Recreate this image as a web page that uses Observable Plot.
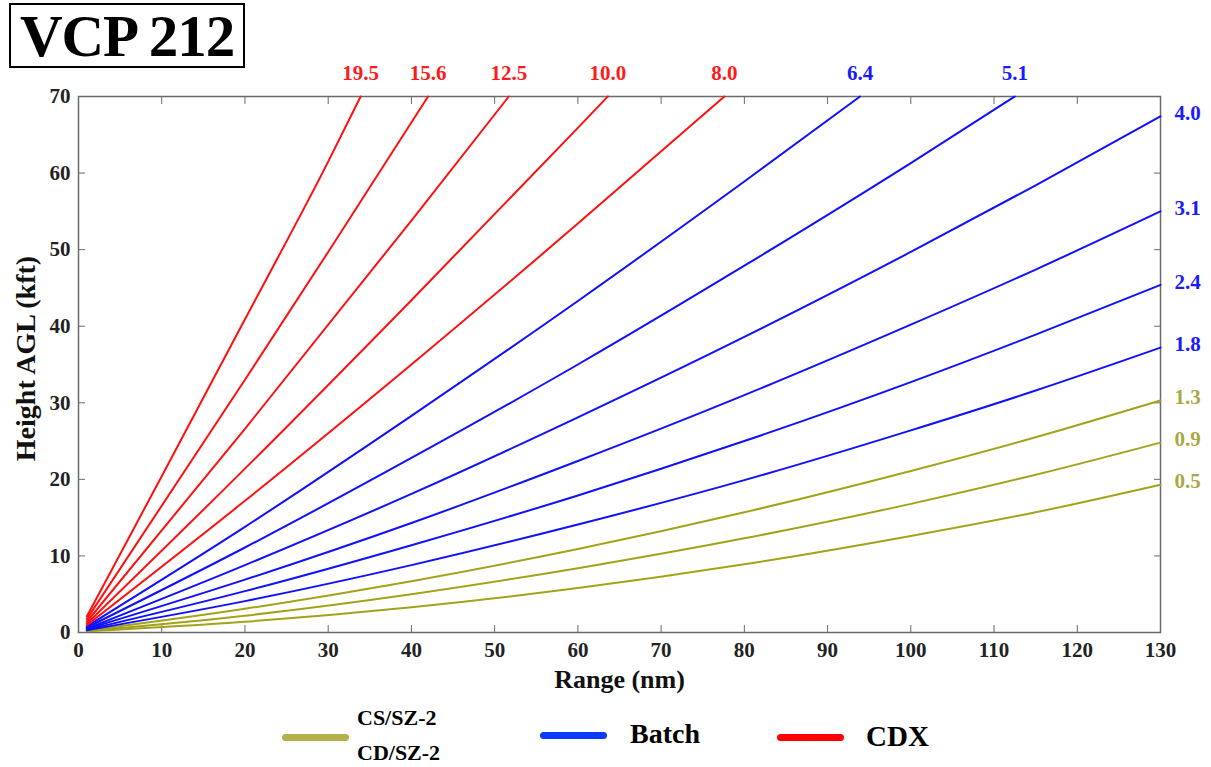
<!DOCTYPE html>
<html>
<head>
<meta charset="utf-8">
<script src="https://cdn.jsdelivr.net/npm/d3@7"></script>
<script src="https://cdn.jsdelivr.net/npm/@observablehq/plot@0.6"></script>
<style>
  html, body { margin: 0; padding: 0; background: #fff; }
  #wrap { position: relative; width: 1211px; height: 767px; overflow: hidden; font-family: "Liberation Serif", "Times New Roman", serif; font-weight: bold; }
  #chart { position: absolute; left: 0; top: 0; }
  #title { position: absolute; left: 9px; top: 3px; width: 232px; height: 61px; border: 2px solid #000; font-size: 59px; line-height: 62px; text-align: center; color: #000; letter-spacing: -1px; }
  .sw { position: absolute; height: 7px; border-radius: 4px; }
  .lt { position: absolute; color: #000; white-space: nowrap; line-height: 1; }
</style>
</head>
<body>
<div id="wrap">
  <div id="chart"></div>
  <div id="title">VCP 212</div>
  <div id="legend"></div>
</div>
<script>
// ---- data ----
const elevations = ["0.5","0.9","1.3","1.8","2.4","3.1","4.0","5.1","6.4","8.0","10.0","12.5","15.6","19.5"];
const scanGroup  = ["CS","CS","CS","Batch","Batch","Batch","Batch","Batch","Batch","CDX","CDX","CDX","CDX","CDX"];
const rangesNm = [
  [1,20,40,60,80,100,115,130],
  [1,20,40,60,80,100,115,130],
  [1,20,40,60,80,100,115,130],
  [1,20,40,60,80,100,115,130],
  [1,20,40,60,80,100,115,130],
  [1,20,40,60,80,100,115,130],
  [1,20,40,60,80,100,115,130],
  [1,20,40,60,80,100,112.5],
  [1,20,40,60,80,93.9],
  [1,20,40,60,77.6],
  [1,20,40,60,63.6],
  [1,20,40,51.7],
  [1,20,30,42],
  [1,10,20,30,33.9]
];
const heightsKft = [
  [0.15,1.4,3.3,5.8,8.9,12.6,15.7,19.3],
  [0.2,2.2,5.0,8.4,12.3,16.8,20.6,24.8],
  [0.25,3.1,6.7,10.9,15.7,21.1,25.5,30.3],
  [0.3,4.1,8.8,14.1,19.9,26.4,31.6,37.2],
  [0.35,5.4,11.4,17.9,25.0,32.7,38.9,45.4],
  [0.45,6.9,14.3,22.4,31.0,40.2,47.4,55.0],
  [0.5,8.8,18.1,28.1,38.6,49.7,58.4,67.4],
  [0.65,11.1,22.8,35.0,47.9,61.3,70],
  [0.8,13.8,28.3,43.3,58.9,70],
  [0.95,17.2,35.0,53.4,70],
  [1.15,21.4,43.4,65.9,70],
  [1.4,26.6,53.8,70],
  [1.75,33.0,49.7,70],
  [2.1,20.4,40.9,61.5,70]
];
const groups = ["CS","Batch","CDX"];
const legendLabels = [["CS/SZ-2","CD/SZ-2"],["Batch"],["CDX"]];
const lineColors = ["#a3a31a","#1010ff","#ff1010"];
const labelColors = ["#a9a943","#1a1aff","#ff1a1a"];
const legendColors = ["#b2b248","#0a3cff","#ff0000"];
const xTicks = [0,10,20,30,40,50,60,70,80,90,100,110,120,130];
const yTicks = [0,10,20,30,40,50,60,70];

// ---- build table ----
const rows = [];
elevations.forEach((e, i) => {
  rangesNm[i].forEach((r, j) => rows.push({angle: e, group: scanGroup[i], range: r, height: heightsKft[i][j]}));
});
const ends = elevations.map((e, i) => ({
  angle: e, group: scanGroup[i],
  range: rangesNm[i][rangesNm[i].length - 1],
  height: heightsKft[i][heightsKft[i].length - 1]
}));
const topEnds = ends.filter(d => d.height >= 70);
const rightEnds = ends.filter(d => d.height < 70);

const font = "'Liberation Serif', 'Times New Roman', serif";

const marks = [
  Plot.frame({stroke: "#6a6a6a", strokeWidth: 1.5}),
  Plot.axisX(xTicks, {anchor: "bottom", tickSize: -7, tickPadding: 17, stroke: "#6a6a6a", fill: "#222", fontSize: 21, fontWeight: "bold", label: null}),
  Plot.axisX(xTicks, {anchor: "top", tickSize: -7, tickFormat: () => "", stroke: "#6a6a6a", label: null}),
  Plot.axisY(yTicks, {anchor: "left", tickSize: -7, tickPadding: 15, stroke: "#6a6a6a", fill: "#222", fontSize: 21, fontWeight: "bold", label: null}),
  Plot.axisY(yTicks, {anchor: "right", tickSize: -7, tickFormat: () => "", stroke: "#6a6a6a", label: null}),
  Plot.text(["Height AGL (kft)"], {frameAnchor: "left", textAnchor: "middle", dx: -52, dy: -6, rotate: -90, fontSize: 28, fontWeight: "bold", fill: "#111"}),
  Plot.text(["Range (nm)"], {frameAnchor: "bottom", textAnchor: "middle", dy: 55, fontSize: 26, fontWeight: "bold", fill: "#111"})
];
groups.forEach((g, i) => {
  marks.push(Plot.line(rows.filter(d => d.group === g), {x: "range", y: "height", z: "angle", stroke: lineColors[i], strokeWidth: 2, curve: "monotone-x"}));
  marks.push(Plot.text(topEnds.filter(d => d.group === g), {x: "range", y: "height", text: "angle", fill: labelColors[i], dy: -23, fontSize: 21, fontWeight: "bold"}));
  marks.push(Plot.text(rightEnds.filter(d => d.group === g), {x: "range", y: "height", text: "angle", fill: labelColors[i], dx: 14, dy: -3, textAnchor: "start", fontSize: 21, fontWeight: "bold"}));
});

const chart = Plot.plot({
  width: 1211,
  height: 700,
  marginLeft: 78,
  marginRight: 51,
  marginTop: 96,
  marginBottom: 68,
  style: {fontFamily: font, background: "white", overflow: "visible"},
  x: {domain: [0, 130]},
  y: {domain: [0, 70]},
  marks
});
document.getElementById("chart").appendChild(chart);

// ---- legend (HTML, below the plot area) ----
const legend = document.getElementById("legend");
const swX = [282, 540, 777];
const swY = [734, 732, 734];
const txX = [357, 630, 866];
const txSize = [22, 28, 29];
groups.forEach((g, i) => {
  const s = document.createElement("div");
  s.className = "sw";
  s.style.left = swX[i] + "px";
  s.style.top = swY[i] + "px";
  s.style.width = "67px";
  s.style.background = legendColors[i];
  legend.appendChild(s);
  const labs = legendLabels[i];
  labs.forEach((t, k) => {
    const d = document.createElement("div");
    d.className = "lt";
    d.textContent = t;
    d.style.fontSize = txSize[i] + "px";
    d.style.left = txX[i] + "px";
    const cy = labs.length === 1 ? swY[i] + 2 : (k === 0 ? 718 : 753);
    d.style.top = (cy - txSize[i] / 2) + "px";
    legend.appendChild(d);
  });
});
</script>
</body>
</html>
